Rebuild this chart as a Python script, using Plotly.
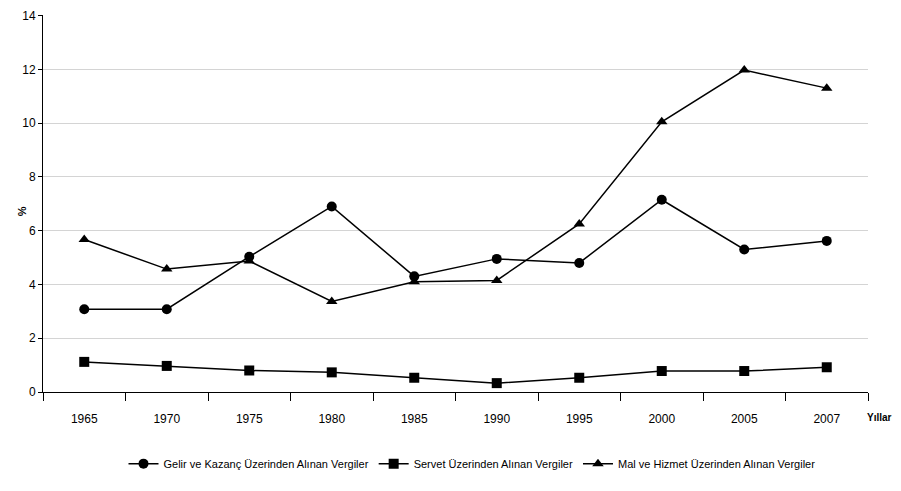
import plotly.graph_objects as go

years = ["1965", "1970", "1975", "1980", "1985", "1990", "1995", "2000", "2005", "2007"]
gelir = [3.08, 3.08, 5.03, 6.9, 4.3, 4.95, 4.8, 7.15, 5.3, 5.62]
servet = [1.12, 0.97, 0.8, 0.73, 0.53, 0.33, 0.53, 0.78, 0.78, 0.92]
mal = [5.67, 4.57, 4.87, 3.37, 4.1, 4.15, 6.25, 10.05, 11.97, 11.3]
yticks = [0, 2, 4, 6, 8, 10, 12, 14]

names = ["Gelir ve Kazanç Üzerinden Alınan Vergiler",
         "Servet Üzerinden Alınan Vergiler",
         "Mal ve Hizmet Üzerinden Alınan Vergiler"]
symbols = ["circle", "square", "triangle-up"]

FONT = "Liberation Sans Narrow, Liberation Sans, Arial, sans-serif"

fig = go.Figure()
for vals, nm, sym in zip([gelir, servet, mal], names, symbols):
    fig.add_trace(go.Scatter(
        x=years, y=vals, name=nm, mode="lines+markers",
        line=dict(color="black", width=1.5),
        marker=dict(symbol=sym, size=10, color="black"),
    ))

fig.update_layout(
    width=901, height=483,
    margin=dict(l=35, r=41, t=7, b=99, autoexpand=False),
    paper_bgcolor="white", plot_bgcolor="white",
    font=dict(family=FONT, size=12, color="black"),
    showlegend=True,
    legend=dict(orientation="h", x=0.52, xanchor="center", y=-0.19, yanchor="middle",
                font=dict(size=11, family=FONT), tracegroupgap=0, itemwidth=30),
)
fig.update_xaxes(
    type="category", range=[-0.5, 9.5], showline=True, linecolor="black", linewidth=1,
    ticks="outside", tickson="boundaries", ticklen=8, tickcolor="black",
    showgrid=False, tickfont=dict(size=12, family=FONT), ticklabelstandoff=16,
)
fig.update_yaxes(
    range=[0, 14.02], tickvals=yticks, showline=True, linecolor="black", linewidth=1,
    ticks="outside", ticklen=4, tickcolor="black", ticklabeloverflow="allow",
    showgrid=True, gridcolor="#d4d4d4", gridwidth=1, zeroline=False,
    tickfont=dict(size=12, family=FONT),
)
fig.add_annotation(text="<b>%</b>", xref="paper", yref="paper", x=-0.035, y=0.48,
                   textangle=-90, showarrow=False, font=dict(size=11, family=FONT))
fig.add_annotation(text="<b>Yıllar</b>", xref="paper", yref="paper", x=1.0, y=-0.068,
                   xanchor="left", yanchor="middle", showarrow=False,
                   font=dict(size=10, family=FONT), xshift=-3)

fig.write_html("out.html")
